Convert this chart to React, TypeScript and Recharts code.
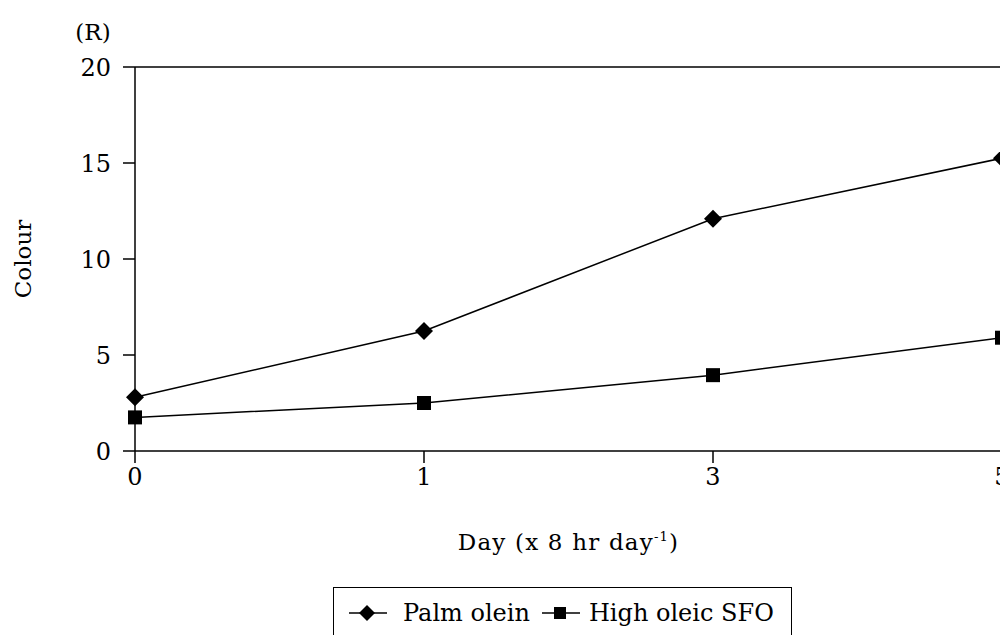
import React from 'react';
import { LineChart, Line, XAxis, YAxis, ReferenceLine, Legend } from 'recharts';

const days = ['0', '1', '3', '5'];
const palmOlein = [2.8, 6.25, 12.1, 15.25];
const highOleicSfo = [1.75, 2.5, 3.95, 5.9];
const yTicks = [0, 5, 10, 15, 20];

const seriesNames = ['Palm olein', 'High oleic SFO'];

const data = days.map((d, i) => ({
  day: d,
  palm: palmOlein[i],
  sfo: highOleicSfo[i],
}));

const FONT = '"DejaVu Serif", serif';

const Diamond = ({ cx, cy, size = 9 }: any) => {
  if (cx == null || cy == null) return null;
  return (
    <polygon
      points={`${cx},${cy - size} ${cx + size},${cy} ${cx},${cy + size} ${cx - size},${cy}`}
      fill="#000"
    />
  );
};

const Square = ({ cx, cy, size = 7 }: any) => {
  if (cx == null || cy == null) return null;
  return <rect x={cx - size} y={cy - size} width={size * 2} height={size * 2} fill="#000" />;
};

const LegendContent = () => (
  <div
    style={{
      display: 'flex',
      alignItems: 'center',
      height: '100%',
      paddingLeft: 14,
      fontFamily: FONT,
      fontSize: 24,
      color: '#000',
      whiteSpace: 'nowrap',
      boxSizing: 'border-box',
    }}
  >
    <svg width={40} height={22} style={{ marginRight: 15, flex: 'none' }}>
      <line x1={1} y1={11} x2={39} y2={11} stroke="#000" strokeWidth={1.5} />
      <Diamond cx={19} cy={11} size={8} />
    </svg>
    <span>{seriesNames[0]}</span>
    <svg width={40} height={22} style={{ marginLeft: 11, marginRight: 8, flex: 'none' }}>
      <line x1={1} y1={11} x2={39} y2={11} stroke="#000" strokeWidth={1.5} />
      <Square cx={19} cy={11} size={6} />
    </svg>
    <span>{seriesNames[1]}</span>
  </div>
);

const XLabel = ({ viewBox }: any) => {
  const cx = viewBox.x + viewBox.width / 2;
  return (
    <text
      x={cx}
      y={542}
      textAnchor="middle"
      fontFamily={FONT}
      fontSize={23}
      letterSpacing={1.2}
      fill="#000"
    >
      Day (x 8 hr day
      <tspan fontSize={13} dy={-9}>-1</tspan>
      <tspan dy={9}>)</tspan>
    </text>
  );
};

const YLabel = () => (
  <g fontFamily={FONT} fontSize={23} fill="#000">
    <text
      x={15}
      y={251}
      transform="rotate(-90 15 251)"
      textAnchor="middle"
      dominantBaseline="central"
    >
      Colour
    </text>
    <text x={85} y={24} textAnchor="middle" dominantBaseline="central">
      (R)
    </text>
  </g>
);

export default function App() {
  return (
    <div style={{ width: 1000, height: 627, background: '#fff' }}>
      <LineChart
        width={1000}
        height={627}
        data={data}
        margin={{ top: 59, right: 6, left: 0, bottom: 144 }}
      >
        <XAxis
          dataKey="day"
          height={40}
          padding={{ left: 0, right: 0 }}
          tickSize={12}
          tickMargin={5}
          stroke="#000"
          strokeWidth={1.5}
          tick={{ fill: '#000', fontFamily: FONT, fontSize: 24 }}
          label={<XLabel />}
        />
        <YAxis
          width={127}
          domain={[0, 20]}
          ticks={yTicks}
          interval={0}
          tickSize={12}
          tickMargin={12}
          stroke="#000"
          strokeWidth={1.5}
          tick={{ fill: '#000', fontFamily: FONT, fontSize: 24 }}
          label={<YLabel />}
        />
        <ReferenceLine y={20} stroke="#000" strokeWidth={1.5} />
        <ReferenceLine x="5" stroke="#000" strokeWidth={1.5} />
        <Line
          type="linear"
          dataKey="palm"
          name={seriesNames[0]}
          stroke="#000"
          strokeWidth={1.5}
          dot={(p: any) => <Diamond key={`d-${p.index}`} cx={p.cx} cy={p.cy} />}
          isAnimationActive={false}
        />
        <Line
          type="linear"
          dataKey="sfo"
          name={seriesNames[1]}
          stroke="#000"
          strokeWidth={1.5}
          dot={(p: any) => <Square key={`s-${p.index}`} cx={p.cx} cy={p.cy} />}
          isAnimationActive={false}
        />
        <Legend
          layout="horizontal"
          verticalAlign="middle"
          align="center"
          content={<LegendContent />}
          wrapperStyle={{
            position: 'absolute',
            left: 325,
            top: 579,
            width: 459,
            height: 52,
            border: '1.5px solid #000',
            background: '#fff',
            boxSizing: 'border-box',
          }}
        />
      </LineChart>
    </div>
  );
}
